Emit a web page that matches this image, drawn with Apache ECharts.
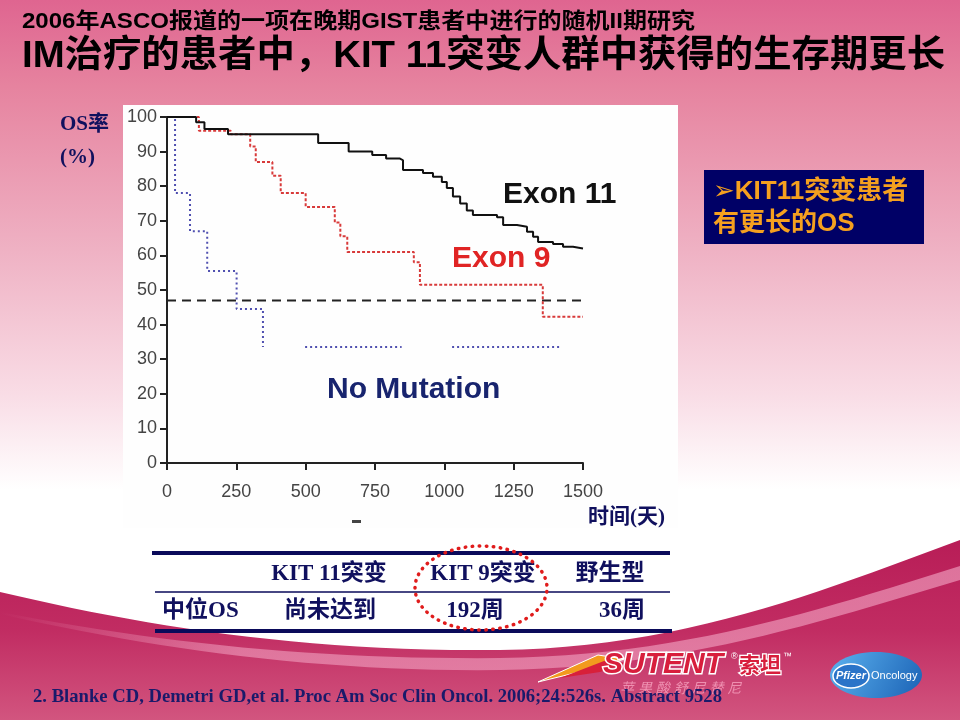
<!DOCTYPE html>
<html>
<head>
<meta charset="utf-8">
<script src="https://cdn.jsdelivr.net/npm/echarts@6/dist/echarts.min.js"></script>
<style>
html,body{margin:0;padding:0;background:#fff;}
#chart{width:960px;height:720px;}
</style>
</head>
<body>
<div id="chart"></div>
<script>
// ---- data ----
const xTicks = [0, 250, 500, 750, 1000, 1250, 1500];
const exon11Days = [0, 105, 135, 220, 545, 655, 740, 790, 840, 851, 923, 959, 991, 1009, 1031, 1057, 1081, 1103, 1190, 1212, 1262, 1298, 1320, 1338, 1392, 1428, 1464, 1500];
const exon11OS   = [100, 98.5, 96.5, 95, 92.5, 90, 89, 88, 87.5, 84.7, 83.8, 82.7, 81.2, 79.5, 77, 75, 73, 71.7, 71, 68.8, 68.3, 66.8, 65.4, 63.9, 63.3, 62.5, 62, 62];
const exon9Days  = [0, 115, 230, 300, 320, 380, 410, 500, 605, 625, 650, 890, 912, 1355, 1500];
const exon9OS    = [100, 96, 95, 91.5, 87, 83, 78, 74, 69.5, 65.5, 61, 58, 51.5, 42.3, 42.3];
// null marks a gap in the printed curve
const noMutDays  = [0, 29, 83, 145, 251, 346, 346, 498, 846, 846, 1028, 1424];
const noMutOS    = [100, 78, 67, 55.5, 44.5, 33.5, null, 33.5, 33.5, null, 33.5, 33.5];
const medianLine = 47;
const seriesNames = ['Exon 11', 'Exon 9', 'No Mutation'];
const tableHeaders = ['KIT 11突变', 'KIT 9突变', '野生型'];
const tableRowLabel = '中位OS';
const tableValues = ['尚未达到', '192周', '36周'];

function zip(xs, ys) { return xs.map((x, i) => [x, ys[i] === null ? '-' : ys[i]]); }

const measureCtx = document.createElement('canvas').getContext('2d');
function fitScale(text, font, target) {
  measureCtx.font = font;
  const w = measureCtx.measureText(text).width;
  return w > 0 ? target / w : 1;
}
// sample a chain of cubic bezier segments into polygon points (decoration only)
function bez(p0, segs) {
  const pts = [p0];
  let cur = p0;
  segs.forEach(s => {
    const [c1, c2, e] = s;
    for (let i = 1; i <= 24; i++) {
      const t = i / 24, u = 1 - t;
      pts.push([
        u*u*u*cur[0] + 3*u*u*t*c1[0] + 3*u*t*t*c2[0] + t*t*t*e[0],
        u*u*u*cur[1] + 3*u*u*t*c1[1] + 3*u*t*t*c2[1] + t*t*t*e[1]
      ]);
    }
    cur = e;
  });
  return pts;
}

const SANS = "'Liberation Sans', 'Noto Sans CJK SC', 'DejaVu Sans', sans-serif";
const SERIF = "'Liberation Serif', 'Noto Sans CJK SC', serif";
const NAVY = '#10105e';

const t1 = '2006年ASCO报道的一项在晚期GIST患者中进行的随机II期研究';
const t2 = 'IM治疗的患者中，KIT 11突变人群中获得的生存期更长';
const f1 = 'bold 22px ' + SANS;
const f2 = 'bold 37px ' + SANS;
const foot = '2. Blanke CD, Demetri GD,et al. Proc Am Soc Clin Oncol. 2006;24:526s. Abstract 9528';
const ffoot = 'bold 19px ' + SERIF;

const bandTop = bez([0, 592], [[[140, 625], [300, 652], [500, 650]], [[680, 648], [820, 592], [960, 540]]]);
const bandPts = bandTop.concat([[960, 720], [0, 720]]);
const stripeTop = bez([0, 612], [[[160, 643], [320, 660], [500, 658]], [[680, 656], [820, 610], [960, 566]]]);
const stripeBot = bez([960, 580], [[[820, 622], [680, 668], [500, 670]], [[320, 672], [160, 650], [0, 614]]]);
const stripePts = stripeTop.concat(stripeBot);

const chart = echarts.init(document.getElementById('chart'), null, {renderer: 'canvas'});

const graphics = [
  // slide background
  {type: 'rect', z: -100, shape: {x: 0, y: 0, width: 960, height: 720},
   style: {fill: new echarts.graphic.LinearGradient(0, 0, 0, 1, [
     {offset: 0, color: '#df6590'}, {offset: 0.12, color: '#e6839f'},
     {offset: 0.35, color: '#efb2c4'}, {offset: 0.55, color: '#f9dde6'},
     {offset: 0.68, color: '#ffffff'}, {offset: 1, color: '#ffffff'}])}},
  // bottom magenta band
  {type: 'polygon', z: -90, shape: {points: bandPts},
   style: {fill: new echarts.graphic.LinearGradient(0, 0, 0, 1, [
     {offset: 0, color: '#b81d57'}, {offset: 0.5, color: '#c12c62'}, {offset: 1, color: '#d2557f'}])}},
  {type: 'polygon', z: -89, shape: {points: stripePts},
   style: {fill: new echarts.graphic.LinearGradient(0, 0, 1, 0, [
     {offset: 0, color: 'rgba(245,170,200,0)'}, {offset: 0.25, color: 'rgba(245,170,200,0.55)'},
     {offset: 1, color: 'rgba(245,170,200,0.6)'}])}},
  // plot picture background
  {type: 'rect', z: -80, shape: {x: 123, y: 105, width: 555, height: 423}, style: {fill: '#fefefe'}},
  {type: 'rect', z: -79, shape: {x: 352, y: 520, width: 9, height: 3}, style: {fill: '#444'}},
  // titles
  {type: 'text', z: 50, x: 22, y: 22, scaleX: fitScale(t1, f1, 673),
   style: {text: t1, font: f1, fill: '#000', textAlign: 'left', textVerticalAlign: 'middle'}},
  {type: 'text', z: 50, x: 22, y: 57, scaleX: fitScale(t2, f2, 923),
   style: {text: t2, font: f2, fill: '#000', textAlign: 'left', textVerticalAlign: 'middle'}},
  // axis captions
  {type: 'text', z: 50, x: 60, y: 125, style: {text: 'OS率', font: 'bold 21px ' + SERIF, fill: NAVY, textVerticalAlign: 'middle'}},
  {type: 'text', z: 50, x: 60, y: 158, style: {text: '(%)', font: 'bold 21px ' + SERIF, fill: NAVY, textVerticalAlign: 'middle'}},
  {type: 'text', z: 50, x: 588, y: 518, style: {text: '时间(天)', font: 'bold 21px ' + SERIF, fill: NAVY, textVerticalAlign: 'middle'}},
  // curve labels
  {type: 'text', z: 50, x: 503, y: 195, style: {text: seriesNames[0], font: 'bold 30px ' + SANS, fill: '#111', textVerticalAlign: 'middle'}},
  {type: 'text', z: 50, x: 452, y: 259, style: {text: seriesNames[1], font: 'bold 30px ' + SANS, fill: '#e02424', textVerticalAlign: 'middle'}},
  {type: 'text', z: 50, x: 327, y: 390, style: {text: seriesNames[2], font: 'bold 30px ' + SANS, fill: '#18246e', textVerticalAlign: 'middle'}},
  // callout box
  {type: 'rect', z: 40, shape: {x: 704, y: 170, width: 220, height: 74}, style: {fill: '#000066'}},
  {type: 'text', z: 50, x: 713, y: 192, style: {text: '➢KIT11突变患者', font: 'bold 26px ' + SANS, fill: '#f5a01f', textVerticalAlign: 'middle'}},
  {type: 'text', z: 50, x: 713, y: 224, style: {text: '有更长的OS', font: 'bold 26px ' + SANS, fill: '#f5a01f', textVerticalAlign: 'middle'}},
  // table rules
  {type: 'rect', z: 40, shape: {x: 152, y: 551, width: 518, height: 4}, style: {fill: '#0a0a5a'}},
  {type: 'line', z: 40, shape: {x1: 155, y1: 592, x2: 670, y2: 592}, style: {stroke: '#0a0a5a', lineWidth: 1.5}},
  {type: 'rect', z: 40, shape: {x: 155, y: 629, width: 517, height: 4}, style: {fill: '#0a0a5a'}},
  // table text
  {type: 'text', z: 50, x: 329, y: 574, style: {text: tableHeaders[0], font: 'bold 23px ' + SERIF, fill: NAVY, textAlign: 'center', textVerticalAlign: 'middle'}},
  {type: 'text', z: 50, x: 483, y: 574, style: {text: tableHeaders[1], font: 'bold 23px ' + SERIF, fill: NAVY, textAlign: 'center', textVerticalAlign: 'middle'}},
  {type: 'text', z: 50, x: 610, y: 574, style: {text: tableHeaders[2], font: 'bold 23px ' + SERIF, fill: NAVY, textAlign: 'center', textVerticalAlign: 'middle'}},
  {type: 'text', z: 50, x: 162, y: 611, style: {text: tableRowLabel, font: 'bold 23px ' + SERIF, fill: NAVY, textAlign: 'left', textVerticalAlign: 'middle'}},
  {type: 'text', z: 50, x: 330, y: 611, style: {text: tableValues[0], font: 'bold 23px ' + SERIF, fill: NAVY, textAlign: 'center', textVerticalAlign: 'middle'}},
  {type: 'text', z: 50, x: 475, y: 611, style: {text: tableValues[1], font: 'bold 23px ' + SERIF, fill: NAVY, textAlign: 'center', textVerticalAlign: 'middle'}},
  {type: 'text', z: 50, x: 645, y: 611, style: {text: tableValues[2], font: 'bold 23px ' + SERIF, fill: NAVY, textAlign: 'right', textVerticalAlign: 'middle'}},
  // dotted red ellipse
  {type: 'ellipse', z: 55, shape: {cx: 481, cy: 588, rx: 66, ry: 42},
   style: {fill: 'none', stroke: '#e01c1c', lineWidth: 3.5, lineDash: [0.5, 6.5], lineCap: 'round'}},
  // footnote
  {type: 'text', z: 50, x: 33, y: 697, scaleX: fitScale(foot, ffoot, 689),
   style: {text: foot, font: ffoot, fill: '#1a1a6a', textAlign: 'left', textVerticalAlign: 'middle'}},
  // Sutent logo (approximation)
  {type: 'polygon', z: 45, shape: {points: [[538, 682], [598, 655], [624, 659], [600, 668], [575, 673]]}, style: {fill: '#f29a1e', stroke: '#fff', lineWidth: 1}},
  {type: 'polygon', z: 46, shape: {points: [[560, 678], [604, 661], [626, 663], [600, 672]]}, style: {fill: '#d8203a'}},
  {type: 'text', z: 50, x: 603, y: 665, style: {text: 'SUTENT', font: 'italic bold 30px ' + SANS, fill: '#d81e3c', stroke: '#ffffff', lineWidth: 3, textVerticalAlign: 'middle'}},
  {type: 'text', z: 50, x: 731, y: 657, style: {text: '®', font: '9px ' + SANS, fill: '#fff', textVerticalAlign: 'middle'}},
  {type: 'text', z: 50, x: 739, y: 666, style: {text: '索坦', font: 'bold 21px ' + SANS, fill: '#d81e3c', stroke: '#ffffff', lineWidth: 2.5, textVerticalAlign: 'middle'}},
  {type: 'text', z: 50, x: 783, y: 657, style: {text: '™', font: '9px ' + SANS, fill: '#fff', textVerticalAlign: 'middle'}},
  {type: 'text', z: 49, x: 620, y: 689, style: {text: '苹 果 酸 舒 尼 替 尼', font: 'italic 14px ' + SANS, fill: '#ee8fb0', textVerticalAlign: 'middle'}},
  // Pfizer Oncology logo (approximation)
  {type: 'ellipse', z: 45, shape: {cx: 876, cy: 675, rx: 46, ry: 23},
   style: {fill: new echarts.graphic.LinearGradient(0, 0, 1, 1, [{offset: 0, color: '#5cb2ef'}, {offset: 1, color: '#1b62b5'}])}},
  {type: 'ellipse', z: 46, shape: {cx: 851, cy: 676, rx: 18, ry: 12}, style: {fill: '#2a74c8', stroke: '#fff', lineWidth: 1.5}},
  {type: 'text', z: 50, x: 851, y: 676, style: {text: 'Pfizer', font: 'italic bold 11px ' + SANS, fill: '#fff', textAlign: 'center', textVerticalAlign: 'middle'}},
  {type: 'text', z: 50, x: 871, y: 676, style: {text: 'Oncology', font: '11px ' + SANS, fill: '#fff', textAlign: 'left', textVerticalAlign: 'middle'}}
];

const axisCommon = {
  type: 'value',
  axisLine: {show: true, onZero: false, lineStyle: {color: '#222', width: 2}},
  axisTick: {show: true, length: 7, lineStyle: {color: '#222', width: 2}},
  splitLine: {show: false},
  axisLabel: {fontSize: 18, color: '#444', fontFamily: 'Liberation Sans', formatter: v => String(v)}
};

const option = {
  animation: false,
  grid: {left: 167, right: 377, top: 117, bottom: 257, containLabel: false},
  xAxis: Object.assign({}, axisCommon, {min: xTicks[0], max: xTicks[xTicks.length - 1], interval: xTicks[1] - xTicks[0],
    axisLabel: Object.assign({}, axisCommon.axisLabel, {margin: 20})}),
  yAxis: Object.assign({}, axisCommon, {min: 0, max: 100, interval: 10,
    axisLabel: Object.assign({}, axisCommon.axisLabel, {margin: 10})}),
  series: [
    {type: 'line', name: 'median', data: [[xTicks[0], medianLine], [xTicks[xTicks.length - 1], medianLine]], symbol: 'none',
     lineStyle: {color: '#222', width: 2, type: [9, 6]}, z: 3},
    {type: 'line', name: seriesNames[2], data: zip(noMutDays, noMutOS), step: 'end', symbol: 'none', connectNulls: false,
     lineStyle: {color: '#5050b0', width: 2, type: [2, 3]}, z: 4},
    {type: 'line', name: seriesNames[1], data: zip(exon9Days, exon9OS), step: 'end', symbol: 'none',
     lineStyle: {color: '#d83a3a', width: 2, type: [3, 2]}, z: 5},
    {type: 'line', name: seriesNames[0], data: zip(exon11Days, exon11OS), step: 'end', symbol: 'none',
     lineStyle: {color: '#111', width: 2}, z: 6}
  ],
  graphic: graphics
};
chart.setOption(option);
</script>
</body>
</html>
